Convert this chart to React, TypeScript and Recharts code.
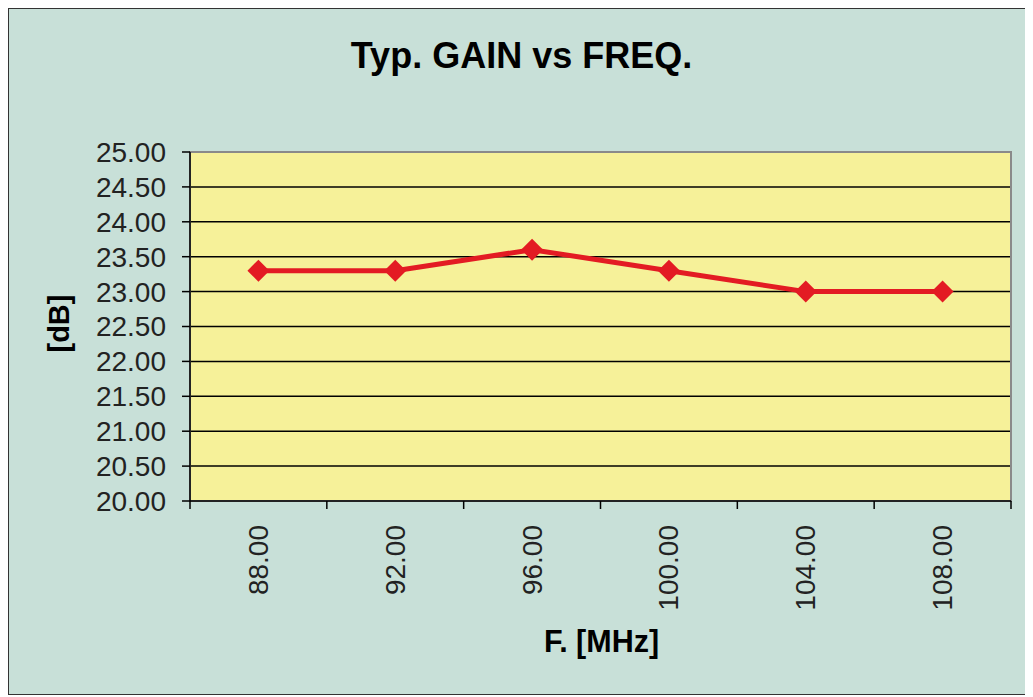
import { LineChart, Line, XAxis, YAxis, CartesianGrid, ReferenceArea } from "recharts";

const freqMHz = [88, 92, 96, 100, 104, 108];
const gainDb = [23.3, 23.3, 23.6, 23.3, 23.0, 23.0];
const freqBoundaries = [86, 90, 94, 98, 102, 106, 110];
const yTicks = [20, 20.5, 21, 21.5, 22, 22.5, 23, 23.5, 24, 24.5, 25];
const yGridLines = [20.5, 21, 21.5, 22, 22.5, 23, 23.5, 24, 24.5];

const data = freqMHz.map((f, i) => ({ freq: f, gain: gainDb[i] }));
const xTicks = [...freqBoundaries, ...freqMHz].sort((a, b) => a - b);

const FONT = "'Liberation Sans', Arial, sans-serif";
const RED = "#e31b23";

function XTick({ x, y, payload }: any) {
  const v = payload.value;
  if (freqMHz.includes(v)) {
    return (
      <text
        x={x}
        y={y + 16}
        transform={`rotate(-90, ${x}, ${y + 16})`}
        textAnchor="end"
        dominantBaseline="central"
        fontFamily={FONT}
        fontSize={28}
        fill="#222"
      >
        {v.toFixed(2)}
      </text>
    );
  }
  return <line x1={x} x2={x} y1={y - 8} y2={y} stroke="#000" strokeWidth={1.5} />;
}

function Diamond({ cx, cy }: any) {
  const r = 11;
  return (
    <path
      d={`M${cx},${cy - r} L${cx + r},${cy} L${cx},${cy + r} L${cx - r},${cy} Z`}
      fill={RED}
      stroke="none"
    />
  );
}

export default function App() {
  return (
    <div
      style={{
        position: "relative",
        width: 1023,
        height: 687,
        boxSizing: "border-box",
        border: "1px solid #333",
        background: "#c8e0d8",
        fontFamily: FONT,
      }}
    >
      <div
        style={{
          position: "absolute",
          top: 29,
          left: 0,
          width: 1025,
          textAlign: "center",
          fontSize: 36,
          lineHeight: "36px",
          fontWeight: "bold",
          color: "#000",
        }}
      >
        Typ. GAIN vs FREQ.
      </div>
      <LineChart
        width={1021}
        height={685}
        data={data}
        margin={{ top: 143, right: 19, left: 0, bottom: 0 }}
      >
        <CartesianGrid
          vertical={false}
          horizontalValues={yGridLines}
          fill="#f6f199"
          fillOpacity={1}
          stroke="#000"
          strokeWidth={1.5}
        />
        <ReferenceArea y1={20} y2={25} fill="none" stroke="#8a8a8a" strokeWidth={2} />
        <XAxis
          dataKey="freq"
          type="number"
          domain={[86, 110]}
          ticks={xTicks}
          interval={0}
          height={193}
          tickSize={8}
          tickMargin={0}
          tickLine={false}
          tick={<XTick />}
          axisLine={{ stroke: "#000", strokeWidth: 1.5 }}
          label={{
            content: ({ viewBox }: any) => (
              <text
                x={viewBox.x + viewBox.width / 2 + 1}
                y={viewBox.y + 151}
                textAnchor="middle"
                fontFamily={FONT}
                fontSize={30.5}
                fontWeight="bold"
                fill="#000"
              >
                F. [MHz]
              </text>
            ),
          }}
        />
        <YAxis
          type="number"
          domain={[20, 25]}
          ticks={yTicks}
          width={181}
          interval={0}
          tickSize={8}
          tickMargin={16}
          tickFormatter={(v: number) => v.toFixed(2)}
          tick={{ fontFamily: FONT, fontSize: 28, fill: "#222" }}
          tickLine={{ stroke: "#000", strokeWidth: 1.5 }}
          axisLine={{ stroke: "#000", strokeWidth: 1.5 }}
          label={{
            content: ({ viewBox }: any) => {
              const cx = viewBox.x + 50;
              const cy = viewBox.y + viewBox.height / 2 - 3;
              return (
                <text
                  x={cx}
                  y={cy}
                  transform={`rotate(-90, ${cx}, ${cy})`}
                  textAnchor="middle"
                  dominantBaseline="central"
                  fontFamily={FONT}
                  fontSize={29}
                  fontWeight="bold"
                  fill="#000"
                >
                  [dB]
                </text>
              );
            },
          }}
        />
        <Line
          type="linear"
          dataKey="gain"
          stroke={RED}
          strokeWidth={5}
          dot={<Diamond />}
          activeDot={false}
          isAnimationActive={false}
        />
      </LineChart>
    </div>
  );
}
